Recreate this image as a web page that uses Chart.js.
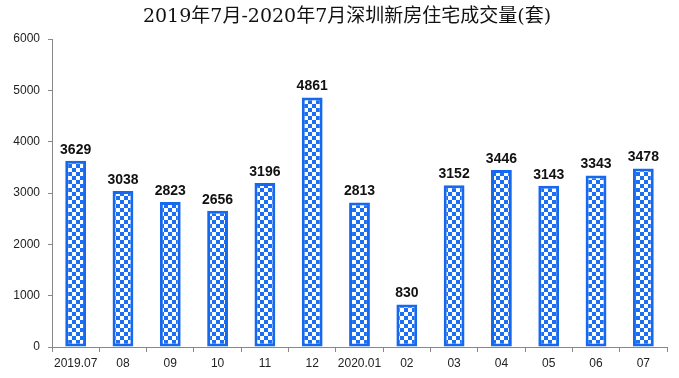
<!DOCTYPE html>
<html>
<head>
<meta charset="utf-8">
<script src="https://cdn.jsdelivr.net/npm/chart.js@4"></script>
<style>
  html, body { margin: 0; padding: 0; background: #fff; }
  #wrap { width: 679px; height: 378px; }
</style>
</head>
<body>
<div id="wrap"><canvas id="chart" width="679" height="378"></canvas></div>
<script>
const months = ["2019.07", "08", "09", "10", "11", "12", "2020.01", "02", "03", "04", "05", "06", "07"];
const sales = [3629, 3038, 2823, 2656, 3196, 4861, 2813, 830, 3152, 3446, 3143, 3343, 3478];
const yTicks = [0, 1000, 2000, 3000, 4000, 5000, 6000];
const chartTitle = "2019年7月-2020年7月深圳新房住宅成交量(套)";

// checkered fill like the original
function makePattern() {
  const c = document.createElement("canvas");
  c.width = 8; c.height = 8;
  const g = c.getContext("2d");
  g.fillStyle = "#ffffff";
  g.fillRect(0, 0, 8, 8);
  g.fillStyle = "#1a6ff5";
  g.fillRect(0, 0, 4, 4);
  g.fillRect(4, 4, 4, 4);
  return g.createPattern(c, "repeat");
}

const titlePlugin = {
  id: "titleText",
  afterDraw(chart) {
    const ctx = chart.ctx;
    ctx.save();
    ctx.font = "19px 'DejaVu Serif', 'Noto Sans CJK SC', serif";
    ctx.fillStyle = "#111";
    ctx.textAlign = "center";
    ctx.textBaseline = "middle";
    ctx.fillText(chartTitle, 347, 17);
    ctx.restore();
  }
};

const valueLabels = {
  id: "valueLabels",
  afterDatasetsDraw(chart) {
    const ctx = chart.ctx;
    const meta = chart.getDatasetMeta(0);
    ctx.save();
    ctx.font = "bold 14px 'Liberation Sans', Arial, sans-serif";
    ctx.fillStyle = "#111";
    ctx.textAlign = "center";
    ctx.textBaseline = "bottom";
    meta.data.forEach((bar, i) => {
      ctx.fillText(sales[i], bar.x, bar.y - 4);
    });
    ctx.restore();
  }
};

const ctx = document.getElementById("chart").getContext("2d");
new Chart(ctx, {
  type: "bar",
  data: {
    labels: months,
    datasets: [{
      data: sales,
      backgroundColor: makePattern(),
      borderColor: "#1668ee",
      borderWidth: 3,
      borderSkipped: false,
      barPercentage: 0.44,
      categoryPercentage: 1.0,
    }],
  },
  options: {
    responsive: false,
    animation: false,
    layout: { padding: { top: 39, right: 12, left: 0, bottom: 0 } },
    plugins: { legend: { display: false }, tooltip: { enabled: false } },
    scales: {
      x: {
        offset: true,
        grid: { display: true, drawOnChartArea: false, drawTicks: true, tickLength: 5, color: "#888", offset: true },
        border: { color: "#888", width: 1 },
        ticks: { color: "#222", font: { size: 12, family: "'Liberation Sans', Arial, sans-serif" }, maxRotation: 0, autoSkip: false, padding: 4 },
        afterFit(scale) { scale.height = 31; },
      },
      y: {
        min: 0,
        max: 6000,
        afterBuildTicks(scale) { scale.ticks = yTicks.map(v => ({ value: v })); },
        grid: { display: true, drawOnChartArea: false, drawTicks: true, tickLength: 4, color: "#888" },
        border: { color: "#888", width: 1 },
        ticks: {
          color: "#222",
          font: { size: 12, family: "'Liberation Sans', Arial, sans-serif" },
          padding: 8,
          callback: v => String(v),
        },
        afterFit(scale) { scale.width = 52; },
      },
    },
  },
  plugins: [titlePlugin, valueLabels],
});
</script>
</body>
</html>
